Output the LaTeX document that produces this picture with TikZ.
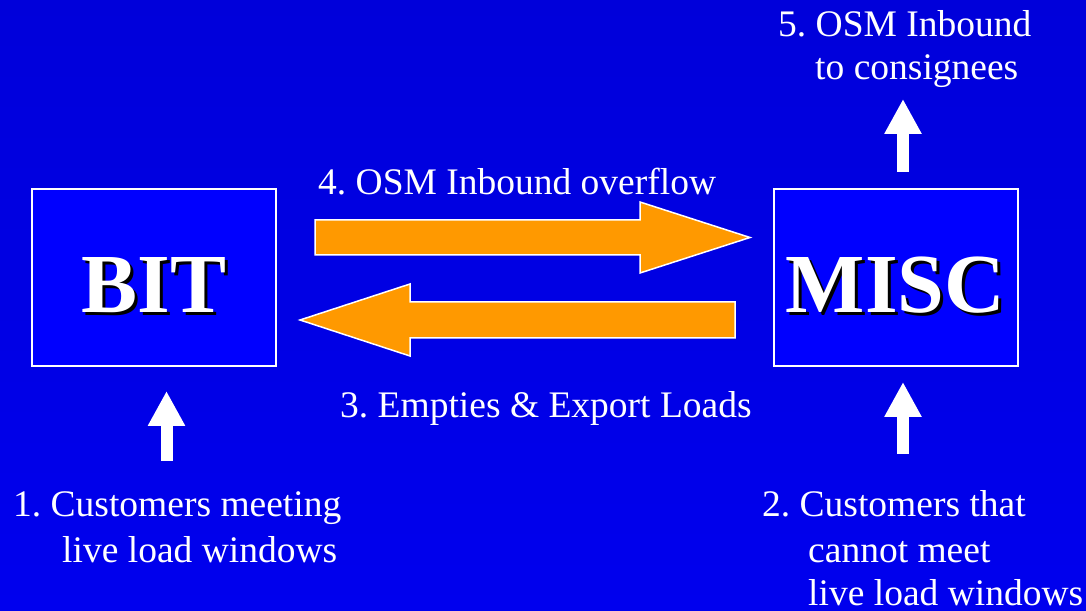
\documentclass[tikz,border=0pt]{standalone}
\usepackage{fontspec}
\setmainfont{Liberation Serif}
\frenchspacing
\usetikzlibrary{arrows.meta}
\definecolor{bgtop}{RGB}{0,0,218}
\definecolor{bgbot}{RGB}{0,0,238}
\definecolor{boxblue}{RGB}{0,0,255}
\definecolor{flow}{RGB}{255,153,0}
\tikzset{
  stationbox/.style={draw=white,line width=2pt,fill=boxblue,minimum width=244pt,minimum height=177pt,inner sep=0pt},
  bigname/.style={anchor=base,inner sep=0pt,font=\fontsize{84}{90}\selectfont\bfseries},
  lbl/.style={anchor=base west,inner sep=0pt,text=white,font=\fontsize{37.5}{44}\selectfont\frenchspacing},
  flowarrow/.style={fill=flow,draw=white,line width=1.5pt,line join=miter},
  uparrow/.style={white,line width=12pt,-{Triangle[width=35pt,length=35pt]}}
}
\begin{document}
\begin{tikzpicture}[x=1pt,y=1pt]
        \useasboundingbox(0,0)rectangle(1086,610);
        \shade[top color=bgtop,bottom color=bgbot](0,0)rectangle(1086,610);
        % the two terminals
        \node[stationbox](bit)at(154,332){};
        \node[stationbox](misc)at(895.5,332){};
        \node[bigname,text=black](bitshadow)at(157,294){BIT};
        \node[bigname,text=white](bitname)at(154,297){BIT};
        \node[bigname,text=black](miscshadow)at(898.5,294){MISC};
        \node[bigname,text=white](miscname)at(895.5,297){MISC};
        % flows between them
        \filldraw[flowarrow](315,355)--(315,390)--(640,390)--(640,408)--(750,372.5)--(640,337)--(640,355)--cycle;
        \filldraw[flowarrow](735,272)--(735,308)--(410,308)--(410,326)--(300,290)--(410,254)--(410,272)--cycle;
        \node[lbl](lfour)at(318,415){4. OSM Inbound overflow};
        \node[lbl](lthree)at(340,192){3. Empties \& Export Loads};
        % in and out
        \coordinate(inbit)at(166.5,149);
        \coordinate(inmisc)at(903,156);
        \coordinate(outmisc)at(903,438);
        \draw[uparrow](inbit)--++(0,70);
        \draw[uparrow](inmisc)--++(0,72);
        \draw[uparrow](outmisc)--++(0,73);
        \node[lbl](lonea)at(13,93){1. Customers meeting};
        \node[lbl](loneb)at(62,48){live load windows};
        \node[lbl](ltwoa)at(762,93){2. Customers that};
        \node[lbl](ltwob)at(808,48){cannot meet};
        \node[lbl](ltwoc)at(808,5){live load windows};
        \node[lbl](lfivea)at(778,573){5. OSM Inbound};
        \node[lbl](lfiveb)at(815,530){to consignees};

    \end{tikzpicture}
\end{document}
